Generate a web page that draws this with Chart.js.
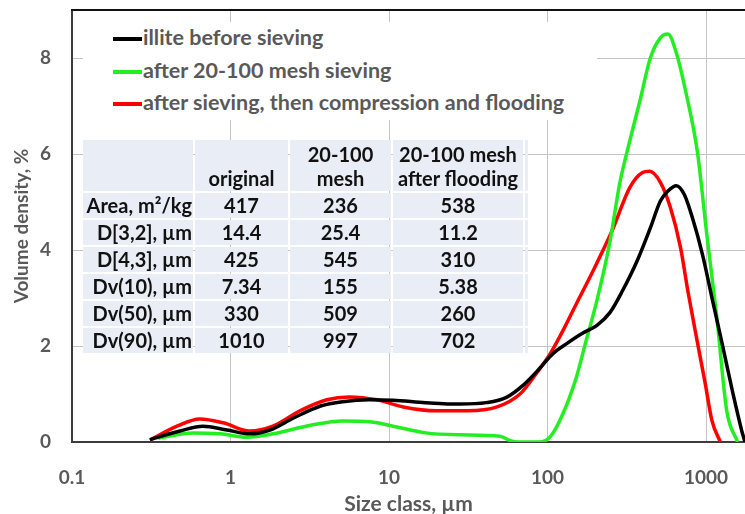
<!DOCTYPE html>
<html>
<head>
<meta charset="utf-8">
<script src="https://cdn.jsdelivr.net/npm/chart.js@4.4.1/dist/chart.umd.min.js"></script>
<style>
  body { margin: 0; background: #fff; }
  #wrap { position: relative; width: 745px; height: 514px; overflow: hidden; }
  #legendBox { position: absolute; left: 83px; top: 22px; width: 514px; height: 98px; background: #fff;
    font: bold 21.5px Lato, sans-serif; color: #595959; }
  .litem { position: absolute; left: 30px; height: 26px; line-height: 26px; white-space: nowrap; }
  .litem span.swatch { display: inline-block; width: 29px; height: 4px; vertical-align: middle; margin-right: 1px; }
  #statTable { position: absolute; left: 81px; top: 138px; border-collapse: separate; border-spacing: 2px;
    table-layout: fixed; font: bold 20px Lato, sans-serif; color: #111; }
  #statTable td { box-sizing: border-box; background: #E9EDF5; padding: 0; text-align: center; height: 25px; line-height: 25px; white-space: nowrap; overflow: visible; }
  #statTable tr.head td { height: 51px; vertical-align: bottom; line-height: 24px; padding-bottom: 1px; }
  #statTable td.rowname { text-align: right; padding-right: 1px; }
</style>
</head>
<body>
<div id="wrap">
  <canvas id="psd" width="745" height="514"></canvas>
  <div id="legendBox"></div>
  <table id="statTable"></table>
</div>
<script>
// size classes (µm) and volume density (%)
const sizeBefore = [0.31, 0.48, 0.67, 0.95, 1.32, 1.77, 2.5, 3.7, 5.1, 7.5, 10.6, 17, 28, 41, 55, 70, 89, 108, 132, 165, 205, 248, 297, 367, 445, 515, 575, 650, 730, 820, 950, 1100, 1280, 1480, 1680, 1760];
const densBefore = [0.05, 0.23, 0.33, 0.25, 0.17, 0.25, 0.5, 0.75, 0.84, 0.88, 0.87, 0.82, 0.79, 0.82, 0.93, 1.18, 1.53, 1.84, 2.05, 2.26, 2.43, 2.7, 3.15, 3.77, 4.46, 5.02, 5.23, 5.34, 5.15, 4.67, 3.9, 2.94, 1.96, 1.0, 0.23, 0];

const sizeSieved = [0.35, 0.58, 0.86, 1.27, 1.85, 3.2, 5.1, 7.6, 10.6, 17, 28, 50, 58, 65, 89, 104, 125, 152, 175, 205, 248, 285, 330, 382, 445, 515, 575, 650, 750, 880, 1010, 1170, 1350, 1580];
const densSieved = [0.08, 0.19, 0.17, 0.1, 0.17, 0.35, 0.44, 0.42, 0.33, 0.19, 0.15, 0.12, 0.03, 0, 0, 0.11, 0.59, 1.35, 2.11, 2.95, 4.19, 5.38, 6.27, 7.1, 8.0, 8.42, 8.5, 8.1, 7.25, 6.06, 4.33, 2.58, 0.65, 0];

const sizeFlooded = [0.31, 0.46, 0.64, 0.9, 1.32, 1.85, 2.74, 4.05, 5.6, 8.4, 12.3, 20, 31, 48, 67, 85, 104, 125, 152, 190, 256, 330, 395, 440, 515, 595, 690, 770, 885, 990, 1090, 1230];
const densFlooded = [0.04, 0.33, 0.48, 0.4, 0.23, 0.33, 0.65, 0.88, 0.94, 0.88, 0.73, 0.65, 0.65, 0.73, 1.0, 1.43, 1.84, 2.32, 2.88, 3.51, 4.41, 5.3, 5.61, 5.64, 5.41, 4.89, 4.05, 3.12, 2.05, 1.2, 0.44, 0];

const seriesNames = ['illite before sieving', 'after 20-100 mesh sieving', 'after sieving, then compression and flooding'];
const xTicks = [0.1, 1, 10, 100, 1000];
const yTicks = [0, 2, 4, 6, 8];

// summary table
const tableHead = ['', 'original', '20-100<br>mesh', '20-100 mesh<br>after flooding'];
const tableRows = ['Area, m²/kg', 'D[3,2], µm', 'D[4,3], µm', 'Dv(10), µm', 'Dv(50), µm', 'Dv(90), µm'];
const colOriginal = ['417', '14.4', '425', '7.34', '330', '1010'];
const colMesh = ['236', '25.4', '545', '155', '509', '997'];
const colFlooded = ['538', '11.2', '310', '5.38', '260', '702'];

const pts = (xs, ys) => xs.map((x, i) => ({x: x, y: ys[i]}));
const colors = ['#000000', '#22EE22', '#FF0000'];
const gray = '#595959';
const fnt = {family: 'Lato, sans-serif', size: 19, weight: 'bold'};

const frame = {
  id: 'frame',
  beforeDatasetsDraw(chart) {
    const a = chart.chartArea, c = chart.ctx;
    c.save();
    c.lineWidth = 2;
    c.strokeStyle = '#3c3c3c';
    c.beginPath();
    c.moveTo(a.left, a.top); c.lineTo(a.left, a.bottom); c.lineTo(a.right, a.bottom);
    c.stroke();
    c.strokeStyle = '#111';
    c.beginPath();
    c.moveTo(a.left - 1, a.top); c.lineTo(a.right, a.top);
    c.stroke();
    c.restore();
  }
};

const chart = new Chart(document.getElementById('psd'), {
  type: 'line',
  data: {
    datasets: [
      {label: seriesNames[0], data: pts(sizeBefore, densBefore)},
      {label: seriesNames[1], data: pts(sizeSieved, densSieved)},
      {label: seriesNames[2], data: pts(sizeFlooded, densFlooded)}
    ].map((d, i) => Object.assign(d, {
      borderColor: colors[i], backgroundColor: colors[i], borderWidth: 3.5,
      pointRadius: 0, cubicInterpolationMode: 'monotone', fill: false
    }))
  },
  options: {
    responsive: false,
    animation: false,
    devicePixelRatio: 1,
    layout: {padding: {top: 10, right: 0, left: 0, bottom: 0}},
    plugins: {legend: {display: false}, tooltip: {enabled: false}},
    scales: {
      x: {
        type: 'logarithmic', min: 0.1, max: 1760,
        afterBuildTicks: s => { s.ticks = xTicks.map(v => ({value: v})); },
        afterFit: s => { s.height = 72; s.paddingLeft = 0; s.paddingRight = 0; },
        grid: {color: '#C4C4C4', lineWidth: 1, drawTicks: false},
        border: {display: false},
        ticks: {color: gray, font: fnt, padding: 24, maxRotation: 0, callback: v => String(v)},
        title: {display: true, text: 'Size class, µm', color: gray, font: Object.assign({}, fnt, {size: 21}), padding: {top: 0, bottom: -3}}
      },
      y: {
        min: 0, max: 9,
        afterBuildTicks: s => { s.ticks = yTicks.map(v => ({value: v})); },
        afterFit: s => { s.width = 72; s.paddingTop = 0; s.paddingBottom = 0; },
        grid: {color: '#C4C4C4', lineWidth: 1, drawTicks: false},
        border: {display: false},
        ticks: {color: gray, font: fnt, padding: 21},
        title: {display: true, text: 'Volume density, %', color: gray, font: fnt, padding: {top: 10, bottom: 0}}
      }
    }
  },
  plugins: [frame]
});

// legend drawn as html so the white box hides the grid behind it
const lb = document.getElementById('legendBox');
chart.data.datasets.forEach((d, i) => {
  const el = document.createElement('div');
  el.className = 'litem';
  el.style.top = (2 + i * 32.5) + 'px';
  el.innerHTML = '<span class="swatch" style="background:' + d.borderColor + '"></span>' + d.label;
  lb.appendChild(el);
});

const tb = document.getElementById('statTable');
let html = '<colgroup><col style="width:110px"><col style="width:93px"><col style="width:101px"><col style="width:130px"><col style="width:3px"></colgroup>';
html += '<tr class="head">' + tableHead.map(t => '<td>' + t + '</td>').join('') + '<td></td></tr>';
tableRows.forEach((r, i) => {
  html += '<tr><td class="rowname">' + r + '</td><td>' + colOriginal[i] + '</td><td>' + colMesh[i] +
    '</td><td>' + colFlooded[i] + '</td><td></td></tr>';
});
tb.innerHTML = html;
</script>
</body>
</html>
